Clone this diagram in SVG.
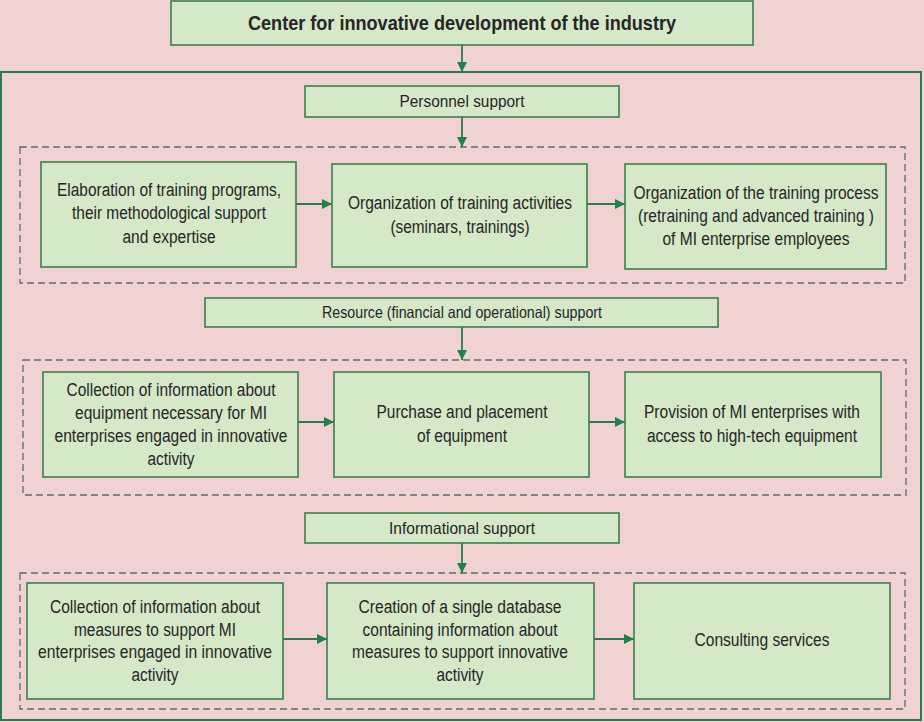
<svg xmlns="http://www.w3.org/2000/svg" width="924" height="722" viewBox="0 0 924 722">
<defs>
<style>
.bg{fill:#f0d2d2}
.box{fill:#d5e8c8;stroke:#3b7f4e;stroke-width:1.6}
.outer{fill:none;stroke:#2f7a4c;stroke-width:2}
.dash{fill:none;stroke:#5e6e62;stroke-width:1.3;stroke-dasharray:7 4}
.t{font-family:"Liberation Sans",Arial,sans-serif;font-size:18px;fill:#262626;text-anchor:middle;dominant-baseline:central}
.h{font-size:16.5px}
.title{font-weight:bold;font-size:21px}
.c{stroke:#2a7a4c;stroke-width:1.8;fill:none;marker-end:url(#ah)}
</style>
<marker id="ah" viewBox="0 0 10 10" refX="10" refY="5" markerWidth="10" markerHeight="10" markerUnits="userSpaceOnUse" orient="auto">
<path d="M0,0 L10,5 L0,10 z" fill="#1f8247"/>
</marker>
</defs>
<rect class="bg" x="0" y="0" width="924" height="722"/>
<rect class="outer" x="1" y="72" width="920" height="648" id="container"/>
<rect class="dash" x="20" y="147" width="885" height="136"/>
<rect class="dash" x="23" y="360" width="883" height="135"/>
<rect class="dash" x="20" y="573" width="885" height="136"/>

<g id="connectors">
<line class="c" x1="462" y1="45" x2="462" y2="72"/>
<line class="c" x1="462" y1="117" x2="462" y2="147"/>
<line class="c" x1="296" y1="204" x2="332" y2="204"/>
<line class="c" x1="587" y1="204" x2="625" y2="204"/>
<line class="c" x1="462" y1="327" x2="462" y2="360"/>
<line class="c" x1="298" y1="422" x2="334" y2="422"/>
<line class="c" x1="589" y1="422" x2="625" y2="422"/>
<line class="c" x1="462" y1="543" x2="462" y2="573"/>
<line class="c" x1="283" y1="639" x2="327" y2="639"/>
<line class="c" x1="594" y1="639" x2="634" y2="639"/>
</g>

<g id="center">
<rect class="box" x="171" y="1" width="582" height="44"/>
<text class="t title" x="462" y="22" textLength="428" lengthAdjust="spacingAndGlyphs">Center for innovative development of the industry</text>
</g>

<g id="personnel">
<rect class="box" x="305" y="86" width="314" height="31"/>
<text class="t h" x="462" y="101" textLength="125" lengthAdjust="spacingAndGlyphs">Personnel support</text>
</g>

<g id="p1">
<rect class="box" x="41" y="162" width="255" height="105"/>
<text class="t" x="169" y="190" textLength="224" lengthAdjust="spacingAndGlyphs">Elaboration of training programs,</text>
<text class="t" x="169" y="213" textLength="194" lengthAdjust="spacingAndGlyphs">their methodological support</text>
<text class="t" x="169" y="237" textLength="93" lengthAdjust="spacingAndGlyphs">and expertise</text>
</g>

<g id="p2">
<rect class="box" x="332" y="164" width="255" height="103"/>
<text class="t" x="460" y="203" textLength="224" lengthAdjust="spacingAndGlyphs">Organization of training activities</text>
<text class="t" x="460" y="227" textLength="139" lengthAdjust="spacingAndGlyphs">(seminars, trainings)</text>
</g>

<g id="p3">
<rect class="box" x="625" y="164" width="261" height="105"/>
<text class="t" x="756" y="193" textLength="245" lengthAdjust="spacingAndGlyphs">Organization of the training process</text>
<text class="t" x="756" y="216" textLength="236" lengthAdjust="spacingAndGlyphs">(retraining and advanced training )</text>
<text class="t" x="756" y="239" textLength="187" lengthAdjust="spacingAndGlyphs">of MI enterprise employees</text>
</g>

<g id="resource">
<rect class="box" x="205" y="298" width="513" height="29"/>
<text class="t h" x="462" y="312" textLength="280" lengthAdjust="spacingAndGlyphs">Resource (financial and operational) support</text>
</g>

<g id="r1">
<rect class="box" x="43" y="372" width="255" height="105"/>
<text class="t" x="171" y="390" textLength="209" lengthAdjust="spacingAndGlyphs">Collection of information about</text>
<text class="t" x="171" y="413" textLength="192" lengthAdjust="spacingAndGlyphs">equipment necessary for MI</text>
<text class="t" x="171" y="436" textLength="233" lengthAdjust="spacingAndGlyphs">enterprises engaged in innovative</text>
<text class="t" x="171" y="459" textLength="47" lengthAdjust="spacingAndGlyphs">activity</text>
</g>

<g id="r2">
<rect class="box" x="334" y="372" width="255" height="105"/>
<text class="t" x="462" y="412" textLength="171" lengthAdjust="spacingAndGlyphs">Purchase and placement</text>
<text class="t" x="462" y="436" textLength="90" lengthAdjust="spacingAndGlyphs">of equipment</text>
</g>

<g id="r3">
<rect class="box" x="625" y="372" width="256" height="105"/>
<text class="t" x="752" y="412" textLength="216" lengthAdjust="spacingAndGlyphs">Provision of MI enterprises with</text>
<text class="t" x="752" y="436" textLength="210" lengthAdjust="spacingAndGlyphs">access to high-tech equipment</text>
</g>

<g id="informational">
<rect class="box" x="305" y="513" width="314" height="30"/>
<text class="t h" x="462" y="528" textLength="146" lengthAdjust="spacingAndGlyphs">Informational support</text>
</g>

<g id="i1">
<rect class="box" x="27" y="583" width="256" height="116"/>
<text class="t" x="155" y="607" textLength="210" lengthAdjust="spacingAndGlyphs">Collection of information about</text>
<text class="t" x="155" y="630" textLength="162" lengthAdjust="spacingAndGlyphs">measures to support MI</text>
<text class="t" x="155" y="652" textLength="234" lengthAdjust="spacingAndGlyphs">enterprises engaged in innovative</text>
<text class="t" x="155" y="675" textLength="47" lengthAdjust="spacingAndGlyphs">activity</text>
</g>

<g id="i2">
<rect class="box" x="327" y="583" width="267" height="116"/>
<text class="t" x="460" y="607" textLength="203" lengthAdjust="spacingAndGlyphs">Creation of a single database</text>
<text class="t" x="460" y="630" textLength="195" lengthAdjust="spacingAndGlyphs">containing information about</text>
<text class="t" x="460" y="652" textLength="216" lengthAdjust="spacingAndGlyphs">measures to support innovative</text>
<text class="t" x="460" y="675" textLength="47" lengthAdjust="spacingAndGlyphs">activity</text>
</g>

<g id="i3">
<rect class="box" x="634" y="583" width="256" height="116"/>
<text class="t" x="762" y="640" textLength="135" lengthAdjust="spacingAndGlyphs">Consulting services</text>
</g>
</svg>
